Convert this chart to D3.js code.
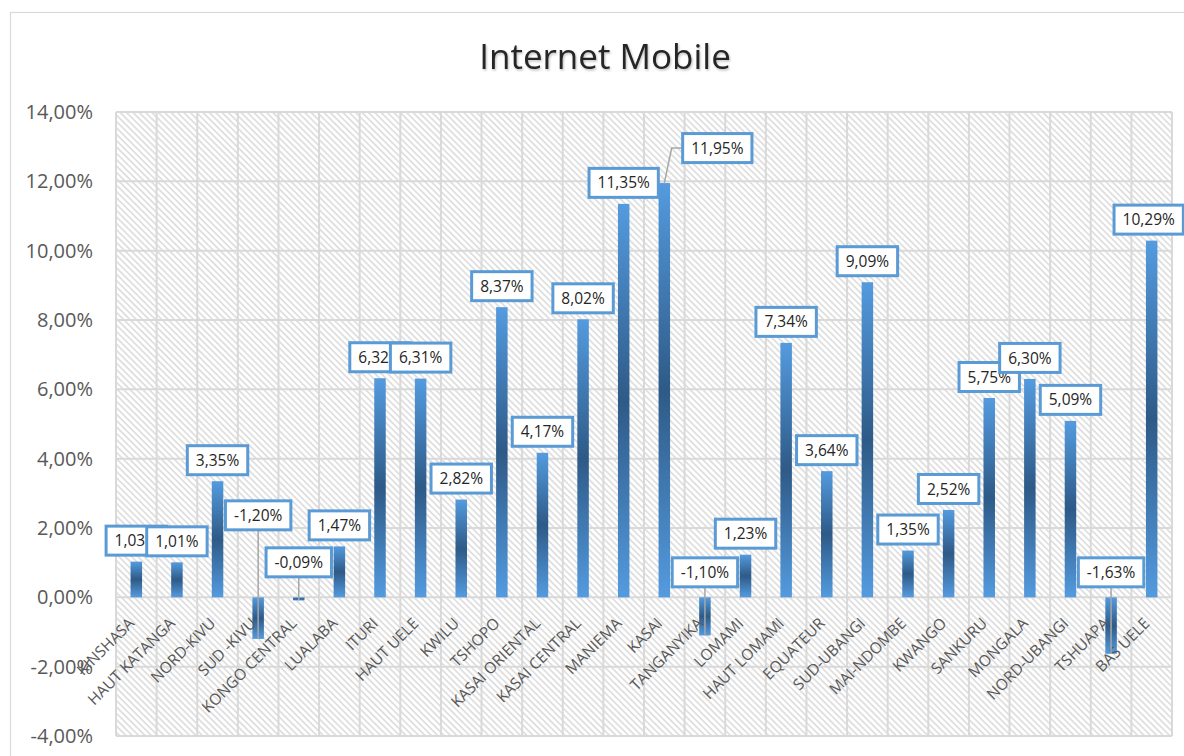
<!DOCTYPE html>
<meta charset="utf-8">
<style>
    body { margin: 0; background: #fff; }
    text { font-family: "Open Sans", sans-serif; }
</style>
<svg width="1184" height="756"></svg>
<script src="https://cdn.jsdelivr.net/npm/d3@7"></script>
<script>

    var regions = ["KINSHASA", "HAUT KATANGA", "NORD-KIVU", "SUD -KIVU", "KONGO CENTRAL", "LUALABA",
        "ITURI", "HAUT UELE", "KWILU", "TSHOPO", "KASAI ORIENTAL", "KASAI CENTRAL", "MANIEMA",
        "KASAI", "TANGANYIKA", "LOMAMI", "HAUT LOMAMI", "EQUATEUR", "SUD-UBANGI", "MAI-NDOMBE",
        "KWANGO", "SANKURU", "MONGALA", "NORD-UBANGI", "TSHUAPA", "BAS UELE"];

    var growth = [1.03, 1.01, 3.35, -1.20, -0.09, 1.47, 6.32, 6.31, 2.82, 8.37, 4.17, 8.02, 11.35,
        11.95, -1.10, 1.23, 7.34, 3.64, 9.09, 1.35, 2.52, 5.75, 6.30, 5.09, -1.63, 10.29];

    var yTicks = [-4, -2, 0, 2, 4, 6, 8, 10, 12, 14];

    // labels that were dragged by hand in the original (pixel offsets, with leader line)
    var labelMoves = {
        "SUD -KIVU": {dx: 0, dy: -61},
        "KONGO CENTRAL": {dx: 0, dy: -14},
        "KASAI": {dx: 53, dy: -14},
        "TANGANYIKA": {dx: 0, dy: -4},
        "TSHUAPA": {dx: 0, dy: -4},
        "BAS UELE": {dx: -3, dy: 0, noLeader: true}
    };

    var svg = d3.select("svg"),
        plot = {left: 116, right: 1172, top: 112, bottom: 736};

    var fr = d3.formatLocale({decimal: ",", thousands: " ", grouping: [3], currency: ["", "€"], minus: "-"});
    var pct = fr.format(".2f");

    var x = d3.scaleBand().domain(regions).range([plot.left, plot.right]).paddingInner(0).paddingOuter(0);
    var y = d3.scaleLinear().domain([-4, 14]).range([plot.bottom, plot.top]);

    var defs = svg.append("defs");

    var hatch = defs.append("pattern")
        .attr("id", "hatch")
        .attr("patternUnits", "userSpaceOnUse")
        .attr("width", 4.5)
        .attr("height", 4.5)
        .attr("patternTransform", "rotate(-45)");
    hatch.append("rect").attr("width", 4.5).attr("height", 4.5).attr("fill", "#fff");
    hatch.append("line")
        .attr("x1", 1).attr("x2", 1).attr("y1", 0).attr("y2", 4.5)
        .attr("stroke", "#dcdcdc").attr("stroke-width", 1.6);

    var grad = defs.append("linearGradient")
        .attr("id", "barGrad")
        .attr("x1", 0).attr("x2", 0).attr("y1", 0).attr("y2", 1);
    grad.append("stop").attr("offset", "0%").attr("stop-color", "#549bdf");
    grad.append("stop").attr("offset", "50%").attr("stop-color", "#2e5a87");
    grad.append("stop").attr("offset", "100%").attr("stop-color", "#549bdf");

    var shadow = defs.append("filter").attr("id", "shadow")
        .attr("x", "-5%").attr("y", "-20%").attr("width", "110%").attr("height", "140%");
    shadow.append("feDropShadow")
        .attr("dx", 1).attr("dy", 1.5).attr("stdDeviation", 1)
        .attr("flood-color", "#000").attr("flood-opacity", 0.25);

    // chart border
    svg.append("rect")
        .attr("x", 10.5).attr("y", 12.5)
        .attr("width", 1300).attr("height", 900)
        .attr("fill", "none").attr("stroke", "#d9d9d9").attr("stroke-width", 1.2);

    svg.append("text")
        .attr("x", 605)
        .attr("y", 69)
        .attr("text-anchor", "middle")
        .attr("filter", "url(#shadow)")
        .style("font-size", "35px")
        .style("fill", "#262626")
        .text("Internet Mobile");

    // plot background
    svg.append("rect")
        .attr("x", plot.left).attr("y", plot.top)
        .attr("width", plot.right - plot.left)
        .attr("height", plot.bottom - plot.top)
        .attr("fill", "url(#hatch)");

    // gridlines
    var grid = svg.append("g").attr("stroke", "#d9d9d9").attr("stroke-width", 2);
    grid.selectAll(".h")
        .data(yTicks)
        .enter().append("line")
        .attr("x1", plot.left).attr("x2", plot.right)
        .attr("y1", function(d) { return y(d); })
        .attr("y2", function(d) { return y(d); });
    grid.selectAll(".v")
        .data(regions.concat(["__end"]))
        .enter().append("line")
        .attr("x1", function(d, i) { return plot.left + i * x.bandwidth(); })
        .attr("x2", function(d, i) { return plot.left + i * x.bandwidth(); })
        .attr("y1", plot.top).attr("y2", plot.bottom);

    // y axis labels
    var yAxis = svg.append("g")
        .attr("transform", "translate(" + (plot.left - 14) + ",0)")
        .call(d3.axisLeft(y).tickValues(yTicks).tickSize(0).tickPadding(9)
            .tickFormat(function(d) { return pct(d) + "%"; }));
    yAxis.select(".domain").remove();
    yAxis.selectAll("text")
        .style("font-family", "'Open Sans', sans-serif")
        .style("font-size", "20px")
        .attr("fill", "#595959");

    var rows = regions.map(function(r, i) { return {region: r, value: growth[i]}; });

    // bars
    var barW = 11.5;
    svg.append("g").selectAll("rect")
        .data(rows)
        .enter().append("rect")
        .attr("x", function(d) { return x(d.region) + x.bandwidth() / 2 - barW / 2; })
        .attr("y", function(d) { return y(Math.max(0, d.value)); })
        .attr("width", barW)
        .attr("height", function(d) { return Math.abs(y(d.value) - y(0)); })
        .attr("fill", "url(#barGrad)");

    // category labels
    svg.append("g").selectAll("text")
        .data(regions)
        .enter().append("text")
        .attr("transform", function(d) {
            return "translate(" + (x(d) + x.bandwidth() / 2 - 1) + "," + (y(0) + 27) + ") rotate(-45)";
        })
        .attr("text-anchor", "end")
        .style("font-size", "15.5px")
        .style("fill", "#595959")
        .text(function(d) { return d; });

    // data labels
    var boxH = 29;
    rows.forEach(function(d) {
        var m = labelMoves[d.region] || {dx: 0, dy: 0};
        d.cx = x(d.region) + x.bandwidth() / 2;
        d.tipY = y(d.value);
        d.lx = d.cx + m.dx;
        d.ly = y(Math.max(0, d.value)) - 21 + m.dy;
        d.leader = labelMoves[d.region] && !m.noLeader;
    });

    var leaders = svg.append("g")
        .attr("fill", "none")
        .attr("stroke", "#a6a6a6")
        .attr("stroke-width", 1.5);

    var labels = svg.append("g").selectAll("g")
        .data(rows)
        .enter().append("g")
        .attr("transform", function(d) { return "translate(" + d.lx + "," + d.ly + ")"; });

    labels.append("rect").attr("class", "box");
    labels.append("text")
        .attr("text-anchor", "middle")
        .attr("dy", "0.36em")
        .style("font-size", "15.5px")
        .style("fill", "#262626")
        .text(function(d) { return pct(d.value) + "%"; });

    labels.each(function(d) {
        var w = this.querySelector("text").getComputedTextLength() + 17;
        d.boxW = w;
        d3.select(this).select("rect")
            .attr("x", -w / 2).attr("y", -boxH / 2)
            .attr("width", w).attr("height", boxH)
            .attr("fill", "#fff")
            .attr("stroke", "#5b9bd5")
            .attr("stroke-width", 3);
    });

    leaders.selectAll("path")
        .data(rows.filter(function(d) { return d.leader; }))
        .enter().append("path")
        .attr("d", function(d) {
            if (Math.abs(d.lx - d.cx) > d.boxW / 2) {
                var sx = d.lx - d.boxW / 2;
                return "M" + sx + "," + d.ly + "H" + (sx - 11) + "L" + d.cx + "," + d.tipY;
            }
            return "M" + d.cx + "," + (d.ly + boxH / 2) + "V" + d.tipY;
        });

</script>
